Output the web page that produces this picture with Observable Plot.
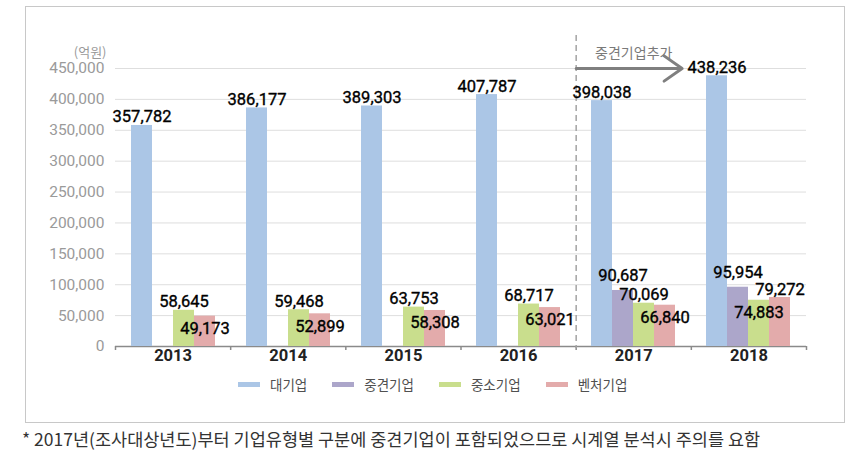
<!DOCTYPE html>
<html>
<head>
<meta charset="utf-8">
<script src="https://cdn.jsdelivr.net/npm/d3@7"></script>
<script src="https://cdn.jsdelivr.net/npm/@observablehq/plot@0.6"></script>
<style>
  body { margin: 0; background: #fff; }
  #wrap { position: relative; width: 852px; height: 460px; overflow: hidden; font-family: "Noto Sans CJK KR", "Noto Sans", sans-serif; }
  #box { position: absolute; left: 25px; top: 6px; width: 820px; height: 417px; box-sizing: border-box; border: 1px solid #c8c8c8; }
  .layer { position: absolute; left: 0; top: 0; }
  #legend { position: absolute; left: 238px; top: 374px; display: flex; align-items: center; font-size: 13.5px; color: #505050; }
  .item { display: flex; align-items: center; margin-right: 25px; }
  .sw { width: 22px; height: 5px; margin-right: 10px; }
  #note { position: absolute; left: 22px; top: 426px; font-size: 17.5px; color: #333; white-space: nowrap; }
</style>
</head>
<body>
<div id="wrap">
  <div id="box"></div>
  <div id="bg" class="layer"></div>
  <div id="fg" class="layer"></div>
  <div id="legend"></div>
  <div id="note"></div>
</div>
<script>
// ---- data ----
const years = [2013, 2014, 2015, 2016, 2017, 2018];
const series = ["대기업", "중견기업", "중소기업", "벤처기업"];
const large  = [357782, 386177, 389303, 407787, 398038, 438236];
const middle = [null, null, null, null, 90687, 95954];
const small  = [58645, 59468, 63753, 68717, 70069, 74883];
const venture = [49173, 52899, 58308, 63021, 66840, 79272];
const yTicks = [0, 50000, 100000, 150000, 200000, 250000, 300000, 350000, 400000, 450000];
const unitLabel = "(억원)";
const noteText = "* 2017년(조사대상년도)부터 기업유형별 구분에 중견기업이 포함되었으므로 시계열 분석시 주의를 요함";
const splitYear = 2016.5;          // boundary where 중견기업 was added
const annotation = {label: "중견기업추가", x: 2017, y: 450000};
const arrowSpec = {x1: 2016.5, x2: 2017.42, y: 450000};

// ---- styling ----
const colors = ["#abc6e6", "#aca6ca", "#c9de8d", "#e3abab"];
const numFont = "Roboto, sans-serif";
const fmt = d3.format(",");

// table
const valuesBySeries = [large, middle, small, venture];
const rows = [];
years.forEach((yr, j) => {
  const group = [];
  series.forEach((s, i) => {
    const v = valuesBySeries[i][j];
    if (v != null) group.push({year: yr, series: s, value: v, inside: false, lift: false});
  });
  // label collision rules between neighbouring bars
  for (let k = 1; k < group.length; k++) {
    const a = group[k - 1], b = group[k];
    const diff = Math.abs(a.value - b.value);
    if (diff < 12000) (a.value < b.value ? a : b).inside = true;
    else if (diff < 25000) (a.value > b.value ? a : b).lift = true;
  }
  rows.push(...group);
});
const boundaries = [years[0] - 0.5, ...years.map(y => y + 0.5)];

const common = {
  width: 852, height: 380,
  marginLeft: 115, marginRight: 46, marginTop: 68, marginBottom: 34,
  style: {background: "transparent", overflow: "visible"}
};

const bg = Plot.plot({
  ...common,
  x: {domain: [years[0] - 0.5, years[years.length - 1] + 0.5], axis: null},
  y: {domain: [0, 450000], axis: null},
  marks: [
    Plot.gridY(yTicks, {stroke: "#dedede", strokeOpacity: 1, strokeWidth: 1}),
    Plot.axisY(yTicks, {tickSize: 0, tickPadding: 11, tickFormat: fmt, fontSize: 15.5, fill: "#9a9a9a", fontFamily: "Roboto, sans-serif", label: null}),
    Plot.text([unitLabel], {frameAnchor: "top-left", dx: -9, dy: -21, textAnchor: "end", fontSize: 13, fill: "#9a9a9a", fontFamily: "'Noto Sans CJK KR', sans-serif"}),
    Plot.ruleY([0], {stroke: "#8a8a8a", strokeWidth: 1.5}),
    Plot.ruleX(boundaries, {x: d => d, y1: 0, y2: 0, insetTop: 0, insetBottom: -4, stroke: "#8a8a8a", strokeWidth: 1.5}),
    Plot.ruleX([splitYear], {stroke: "#a3a3a3", strokeWidth: 1.5, strokeDasharray: "6,4", insetTop: -33, insetBottom: -2}),
    Plot.text(years, {x: d => d, frameAnchor: "bottom", dy: 14, text: d => String(d), fontSize: 16.5, fontWeight: "bold", fill: "#222", fontFamily: numFont}),
    Plot.text([annotation], {x: "x", y: "y", text: "label", dy: -15, fontSize: 14, fill: "#7a7a7a", fontFamily: "'Noto Sans CJK KR', sans-serif"}),
    Plot.arrow([arrowSpec], {x1: "x1", x2: "x2", y1: "y", y2: "y", stroke: "#7f7f7f", strokeWidth: 3, headLength: 11, headAngle: 70})
  ]
});
document.getElementById("bg").appendChild(bg);

const labelStyle = {fx: "year", x: "series", y: "value", text: d => fmt(d.value), fontSize: 16.5, fontWeight: "normal", fill: "#000", stroke: "#000", strokeWidth: 0.35, fontFamily: numFont};
const fg = Plot.plot({
  ...common,
  fx: {domain: years, paddingInner: 0.27, paddingOuter: 0.135, axis: null, label: null},
  x: {domain: series, padding: 0, axis: null},
  y: {domain: [0, 450000], axis: null},
  color: {domain: series, range: colors},
  marks: [
    Plot.barY(rows, {fx: "year", x: "series", y: "value", fill: "series"}),
    Plot.text(rows.filter(d => !d.inside && !d.lift), {...labelStyle, lineAnchor: "bottom", dy: -3}),
    Plot.text(rows.filter(d => !d.inside && d.lift), {...labelStyle, lineAnchor: "bottom", dy: -9}),
    Plot.text(rows.filter(d => d.inside), {...labelStyle, lineAnchor: "top", dy: 6})
  ]
});
document.getElementById("fg").appendChild(fg);

// legend
const legend = d3.select("#legend");
series.forEach((s, i) => {
  const it = legend.append("div").attr("class", "item");
  it.append("div").attr("class", "sw").style("background", colors[i]);
  it.append("span").text(s);
});
document.getElementById("note").textContent = noteText;
</script>
</body>
</html>
